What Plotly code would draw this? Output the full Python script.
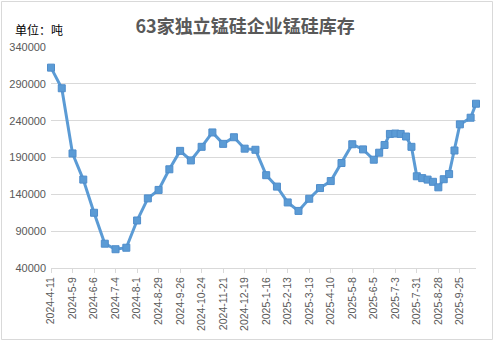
import plotly.graph_objects as go

dates = [
    "2024-04-11", "2024-04-25", "2024-05-09", "2024-05-23", "2024-06-06", "2024-06-20",
    "2024-07-04", "2024-07-18", "2024-08-01", "2024-08-15", "2024-08-29", "2024-09-12",
    "2024-09-26", "2024-10-10", "2024-10-24", "2024-11-07", "2024-11-21", "2024-12-05",
    "2024-12-19", "2025-01-02", "2025-01-16", "2025-01-30", "2025-02-13", "2025-02-27",
    "2025-03-13", "2025-03-27", "2025-04-10", "2025-04-24", "2025-05-08", "2025-05-22",
    "2025-06-05", "2025-06-12", "2025-06-19", "2025-06-26", "2025-07-03", "2025-07-10",
    "2025-07-17", "2025-07-24", "2025-07-31", "2025-08-07", "2025-08-14", "2025-08-21",
    "2025-08-28", "2025-09-04", "2025-09-11", "2025-09-18", "2025-09-25", "2025-10-09",
    "2025-10-16",
]
inventory = [
    312000, 284000, 195500, 160000, 115000, 73000,
    65500, 67500, 104500, 134500, 146000, 174000,
    199000, 186000, 204500, 224000, 208500, 217500,
    202000, 200500, 166000, 150500, 129000, 117500,
    134000, 148500, 158000, 182500, 208000, 201000,
    187000, 196500, 207000, 222000, 222500, 222000,
    218500, 204500, 164500, 162000, 160000, 157000,
    149500, 160500, 167500, 199500, 235000, 244000,
    263000,
]

title_text = "63家独立锰硅企业锰硅库存"
unit_text = "单位：吨"

W, H = 494, 343
ML, MR, MT, MB = 51, 18, 47, 75
PW = W - ML - MR
PH = H - MT - MB

def px_x(px):
    return (px - ML) / PW

def px_y(py):
    return (H - MB - py) / PH

fig = go.Figure()
fig.add_trace(go.Scatter(
    x=dates, y=inventory, mode="lines+markers",
    line=dict(color="#5B9BD5", width=3),
    marker=dict(symbol="square", size=7, color="#5B9BD5",
                line=dict(color="#4F8DCB", width=1)),
    cliponaxis=False, showlegend=False,
))

fig.update_layout(
    width=W, height=H,
    margin=dict(l=ML, r=MR, t=MT, b=MB, pad=0, autoexpand=False),
    paper_bgcolor="white", plot_bgcolor="white",
    font=dict(family="Liberation Sans, Arial, sans-serif", color="#595959", size=11),
    title=dict(text="<b>" + title_text + "</b>", x=0.496, xref="container", xanchor="center",
               y=1 - 27 / H, yref="container", yanchor="middle",
               font=dict(family="Noto Sans CJK SC", size=18, color="#595959")),
    xaxis=dict(
        type="date", range=["2024-04-11", "2025-10-16"],
        tick0="2024-04-11", dtick=28 * 86400000, tickformat="%Y-%-m-%-d",
        tickangle=-90, ticks="outside", ticklen=4, tickcolor="#D9D9D9",
        showline=True, linecolor="#D9D9D9", linewidth=1,
        showgrid=False, zeroline=False, automargin=False,
        tickfont=dict(size=10.5, color="#595959"),
    ),
    yaxis=dict(
        range=[40000, 340000], tick0=40000, dtick=50000, tickformat="d",
        showgrid=True, gridcolor="#D9D9D9", gridwidth=1, zeroline=False,
        showline=False, ticks="", ticklabelstandoff=4, automargin=False,
        tickfont=dict(size=11, color="#595959"),
    ),
    annotations=[dict(
        text=unit_text, xref="paper", yref="paper",
        x=px_x(13), y=px_y(29), xanchor="left", yanchor="middle",
        showarrow=False, font=dict(family="Noto Sans CJK SC", size=12, color="#000000"),
    )],
    shapes=[dict(
        type="rect", xref="paper", yref="paper",
        x0=px_x(1.5), x1=px_x(492.5), y0=px_y(339.5), y1=px_y(1.5),
        line=dict(color="#D9D9D9", width=1), fillcolor="rgba(0,0,0,0)", layer="below",
    )],
)

fig.write_html("out.html")
